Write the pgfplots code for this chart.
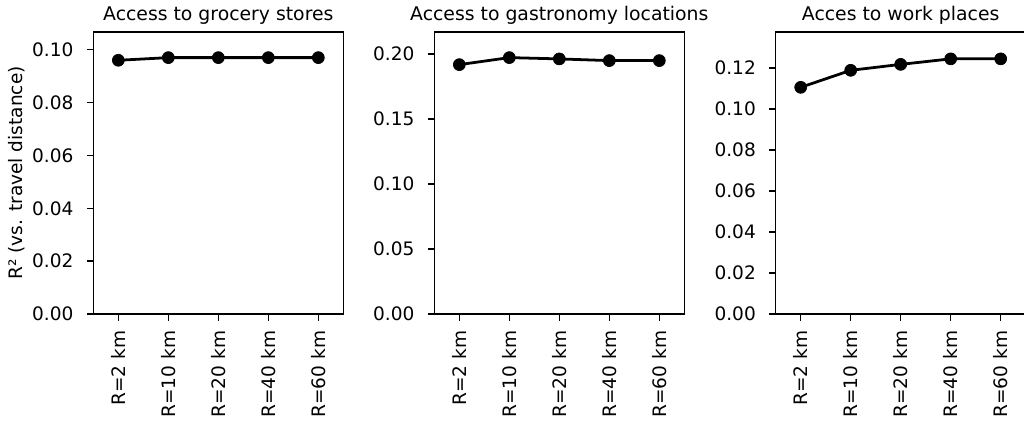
\documentclass[border=0pt]{standalone}
\usepackage{fontspec}
\setmainfont{DejaVu Sans}
\usepackage{pgfplots}
\pgfplotsset{compat=1.18}
\pgfplotsset{
  myax/.style={
    scale only axis, width=180bp, height=203.04bp,
    anchor=south west,
    xmin=-0.5, xmax=4.5, ymin=0,
    xtick={0,1,2,3,4},
    xticklabels={R=2 km, R=10 km, R=20 km, R=40 km, R=60 km},
    tick pos=left, tick align=outside,
    major tick length=4.7bp,
    every tick/.style={line width=1.08bp, black},
    axis line style={line width=1.08bp},
    /pgf/number format/assume math mode=true,
    /pgf/number format/fixed, /pgf/number format/fixed zerofill,
    /pgf/number format/precision=2,
    scaled y ticks=false,
    tick label style={font=\fontsize{13.4}{16}\selectfont},
    xticklabel style={rotate=90, anchor=east, inner sep=0pt, xshift=-7.2bp},
    yticklabel style={anchor=east, inner sep=0pt, xshift=-9.4bp},
    title style={at={(0.5,1)}, anchor=base, inner sep=0pt, yshift=2bp, font=\fontsize{13.6}{16}\selectfont},
    clip=false,
  },
  myline/.style={black, line width=2bp, mark=*, mark size=4.3bp, mark options={fill=black, line width=0.5bp}},
}
\begin{document}
\begin{tikzpicture}
\useasboundingbox (0,0) rectangle (737.28bp,303.84bp);
\begin{axis}[myax, at={(67.2bp,77.76bp)}, ymax=0.1067,
  ytick={0,0.02,0.04,0.06,0.08,0.10},
  title={Access to grocery stores},
  ylabel={R² (vs. travel distance)},
  ylabel style={font=\fontsize{13.4}{16}\selectfont, at={([xshift=-55bp]rel axis cs:0,0.5)}, anchor=center},
]
\addplot[myline] coordinates {(0,0.0960) (1,0.0970) (2,0.0970) (3,0.0970) (4,0.0970)};
\end{axis}
\begin{axis}[myax, at={(312.7bp,77.76bp)}, ymax=0.2169,
  ytick={0,0.05,0.10,0.15,0.20},
  title={Access to gastronomy locations},
]
\addplot[myline] coordinates {(0,0.1918) (1,0.1972) (2,0.1962) (3,0.1949) (4,0.1949)};
\end{axis}
\begin{axis}[myax, at={(558.5bp,77.76bp)}, ymax=0.1376,
  ytick={0,0.02,0.04,0.06,0.08,0.10,0.12},
  title={Acces to work places},
]
\addplot[myline] coordinates {(0,0.1106) (1,0.1189) (2,0.1218) (3,0.1245) (4,0.1245)};
\end{axis}
\end{tikzpicture}
\end{document}
